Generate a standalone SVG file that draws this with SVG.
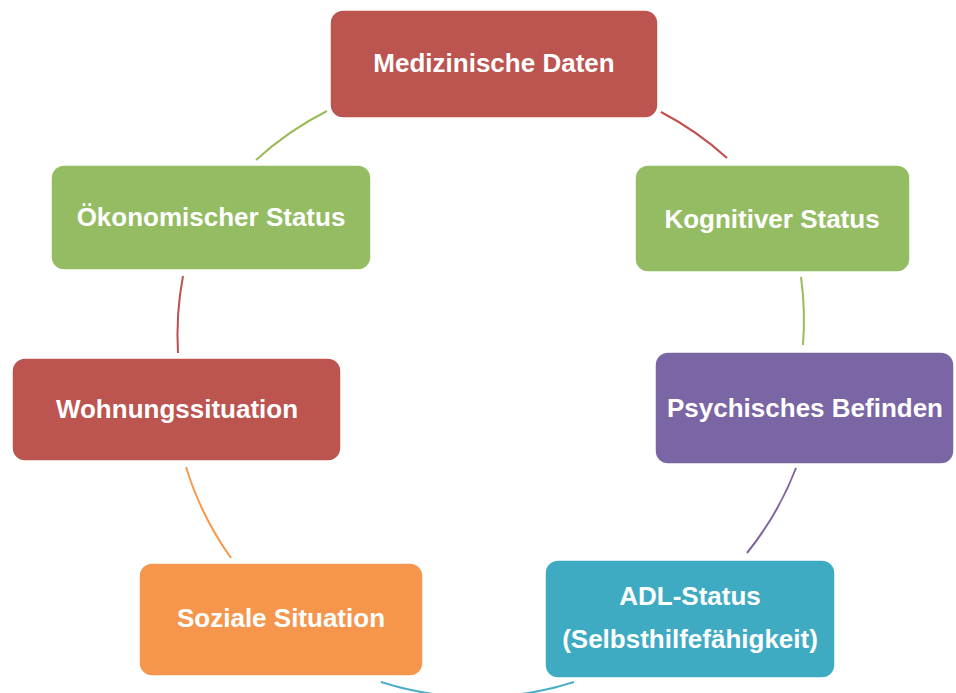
<svg xmlns="http://www.w3.org/2000/svg" width="956" height="693" viewBox="0 0 956 693">
<style>
.box{stroke:#ffffff;stroke-width:1.5}
.t{font-family:"Liberation Sans",Arial,sans-serif;font-weight:bold;font-size:26px;fill:#ffffff;text-anchor:middle}
.c{fill:none;stroke-width:2}
</style>
<rect width="956" height="693" fill="#ffffff"/>
<g id="connectors">
<path class="c" stroke="#c0504d" d="M661,112 A316,316 0 0 1 727,158"/>
<path class="c" stroke="#9bbb59" d="M801,277 A316,316 0 0 1 803,345"/>
<path class="c" stroke="#8064a2" d="M796,468 A316,316 0 0 1 747,553"/>
<path class="c" stroke="#4bacc6" stroke-width="2.5" d="M574,682 A316,316 0 0 1 381,682"/>
<path class="c" stroke="#f79646" d="M231,558 A316,316 0 0 1 186,467"/>
<path class="c" stroke="#c0504d" d="M178,353 A316,316 0 0 1 183,276"/>
<path class="c" stroke="#9bbb59" d="M256,160 A316,316 0 0 1 327,111"/>
</g>
<g id="medizinische">
<rect class="box" x="330" y="10" width="328" height="108" rx="13" fill="#bc5450"/>
<text class="t" x="494" y="72">Medizinische Daten</text>
</g>
<g id="kognitiver">
<rect class="box" x="635" y="165" width="275" height="107" rx="13" fill="#94bc63"/>
<text class="t" x="772" y="228">Kognitiver Status</text>
</g>
<g id="psychisches">
<rect class="box" x="655" y="352" width="299" height="112" rx="13" fill="#7b66a5"/>
<text class="t" x="805" y="417">Psychisches Befinden</text>
</g>
<g id="adl">
<rect class="box" x="545" y="560" width="290" height="118" rx="13" fill="#3eabc3"/>
<text class="t" x="690" y="605">ADL-Status</text>
<text class="t" x="690" y="648">(Selbsthilfefähigkeit)</text>
</g>
<g id="soziale">
<rect class="box" x="139" y="563" width="284" height="113" rx="13" fill="#f5964c"/>
<text class="t" x="281" y="627">Soziale Situation</text>
</g>
<g id="wohnung">
<rect class="box" x="12" y="358" width="329" height="103" rx="13" fill="#bc5450"/>
<text class="t" x="177" y="418">Wohnungssituation</text>
</g>
<g id="oekonomisch">
<rect class="box" x="51" y="165" width="320" height="105" rx="13" fill="#94bc63"/>
<text class="t" x="211" y="226">Ökonomischer Status</text>
</g>
</svg>
